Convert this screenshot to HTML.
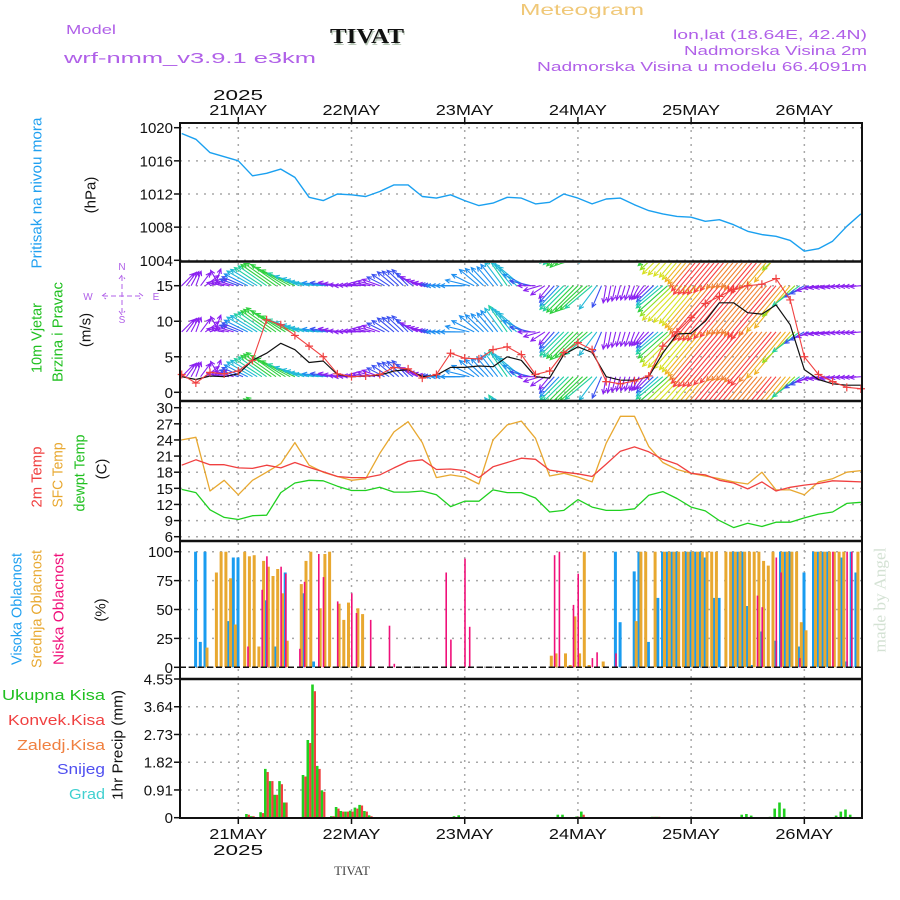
<!DOCTYPE html>
<html><head><meta charset="utf-8"><style>
html,body{margin:0;padding:0;background:#fff;}
svg{display:block;font-family:"Liberation Sans",sans-serif;}
</style></head><body>
<svg id="chart" width="900" height="900" viewBox="0 0 900 900" xmlns="http://www.w3.org/2000/svg">
<defs>
<clipPath id="clipWind"><rect x="181" y="263" width="680" height="137"/></clipPath>
</defs>
<rect x="0" y="0" width="900" height="900" fill="#fff"/>
<!-- header -->
<text x="66" y="34" font-size="13" fill="#b060e8" textLength="50" lengthAdjust="spacingAndGlyphs">Model</text>
<text x="64" y="63" font-size="15" fill="#b060e8" textLength="252" lengthAdjust="spacingAndGlyphs">wrf-nmm_v3.9.1 e3km</text>
<text x="331" y="45" font-size="21" font-weight="bold" font-family="Liberation Serif, serif" fill="#b8c8b8" textLength="74" lengthAdjust="spacingAndGlyphs">TIVAT</text>
<text x="330" y="43" font-size="21" font-weight="bold" font-family="Liberation Serif, serif" fill="#111" textLength="74" lengthAdjust="spacingAndGlyphs">TIVAT</text>
<text x="520" y="15" font-size="16" fill="#f0c878" textLength="124" lengthAdjust="spacingAndGlyphs">Meteogram</text>
<text x="867" y="39" font-size="13" fill="#b060e8" text-anchor="end" textLength="194" lengthAdjust="spacingAndGlyphs">lon,lat (18.64E, 42.4N)</text>
<text x="867" y="55" font-size="13" fill="#b060e8" text-anchor="end" textLength="183" lengthAdjust="spacingAndGlyphs">Nadmorska Visina 2m</text>
<text x="867" y="71" font-size="13" fill="#b060e8" text-anchor="end" textLength="330" lengthAdjust="spacingAndGlyphs">Nadmorska Visina u modelu 66.4091m</text>
<text x="238" y="100" font-size="15" fill="#111" text-anchor="middle" textLength="50" lengthAdjust="spacingAndGlyphs">2025</text>
<text x="238" y="855" font-size="15" fill="#111" text-anchor="middle" textLength="50" lengthAdjust="spacingAndGlyphs">2025</text>
<text x="352" y="875" font-size="13" fill="#444" text-anchor="middle" font-family="Liberation Serif, serif">TIVAT</text>
<text transform="translate(880,600) rotate(-90)" font-size="17" fill="#d4e2d4" text-anchor="middle" dominant-baseline="central" font-family="Liberation Serif, serif" textLength="105" lengthAdjust="spacingAndGlyphs">made by Angel</text>
<!-- left labels -->
<text transform="translate(37,193) rotate(-90)" font-size="15" fill="#20a0f0" text-anchor="middle" dominant-baseline="central" textLength="151" lengthAdjust="spacingAndGlyphs">Pritisak na nivou mora</text>
<text transform="translate(91,195) rotate(-90)" font-size="15" fill="#111" text-anchor="middle" dominant-baseline="central">(hPa)</text>
<text transform="translate(37,338) rotate(-90)" font-size="15" fill="#20c020" text-anchor="middle" dominant-baseline="central" textLength="70" lengthAdjust="spacingAndGlyphs">10m Vjetar</text>
<text transform="translate(58,332) rotate(-90)" font-size="15" fill="#20c020" text-anchor="middle" dominant-baseline="central" textLength="100" lengthAdjust="spacingAndGlyphs">Brzina i Pravac</text>
<text transform="translate(86,330) rotate(-90)" font-size="15" fill="#111" text-anchor="middle" dominant-baseline="central">(m/s)</text>
<g fill="#b060e8" stroke="#b060e8" font-size="10">
<text x="122" y="270" text-anchor="middle" stroke="none">N</text>
<text x="122" y="323" text-anchor="middle" stroke="none">S</text>
<text x="88" y="300" text-anchor="middle" stroke="none">W</text>
<text x="156" y="300" text-anchor="middle" stroke="none">E</text>
<path d="M103 296 H142 M122 276 V314 M106 293 L102 296 L106 299 M139 293 L143 296 L139 299 M119 279 L122 275 L125 279 M119 311 L122 315 L125 311" fill="none" stroke-width="1" stroke-dasharray="5,3"/>
</g>
<text transform="translate(37,477) rotate(-90)" font-size="15" fill="#f04040" text-anchor="middle" dominant-baseline="central" textLength="61" lengthAdjust="spacingAndGlyphs">2m Temp</text>
<text transform="translate(58,475) rotate(-90)" font-size="15" fill="#e8a830" text-anchor="middle" dominant-baseline="central" textLength="65" lengthAdjust="spacingAndGlyphs">SFC Temp</text>
<text transform="translate(80,473) rotate(-90)" font-size="15" fill="#20c020" text-anchor="middle" dominant-baseline="central" textLength="77" lengthAdjust="spacingAndGlyphs">dewpt Temp</text>
<text transform="translate(102,469) rotate(-90)" font-size="15" fill="#111" text-anchor="middle" dominant-baseline="central">(C)</text>
<text transform="translate(17,609) rotate(-90)" font-size="15" fill="#20a0f0" text-anchor="middle" dominant-baseline="central" textLength="112" lengthAdjust="spacingAndGlyphs">Visoka Oblacnost</text>
<text transform="translate(37,609) rotate(-90)" font-size="15" fill="#e8a830" text-anchor="middle" dominant-baseline="central" textLength="118" lengthAdjust="spacingAndGlyphs">Srednja Oblacnost</text>
<text transform="translate(59,609) rotate(-90)" font-size="15" fill="#f0107a" text-anchor="middle" dominant-baseline="central" textLength="112" lengthAdjust="spacingAndGlyphs">Niska Oblacnost</text>
<text transform="translate(101,610) rotate(-90)" font-size="15" fill="#111" text-anchor="middle" dominant-baseline="central">(%)</text>
<text x="105" y="700" font-size="15" fill="#20c020" text-anchor="end" textLength="103" lengthAdjust="spacingAndGlyphs">Ukupna  Kisa</text>
<text x="105" y="725" font-size="15" fill="#f04040" text-anchor="end" textLength="97" lengthAdjust="spacingAndGlyphs">Konvek.Kisa</text>
<text x="105" y="750" font-size="15" fill="#f08040" text-anchor="end" textLength="88" lengthAdjust="spacingAndGlyphs">Zaledj.Kisa</text>
<text x="105" y="774" font-size="15" fill="#5050f0" text-anchor="end" textLength="48" lengthAdjust="spacingAndGlyphs">Snijeg</text>
<text x="105" y="799" font-size="15" fill="#40d0d0" text-anchor="end" textLength="36" lengthAdjust="spacingAndGlyphs">Grad</text>
<text transform="translate(118,745) rotate(-90)" font-size="15" fill="#111" text-anchor="middle" dominant-baseline="central" textLength="110" lengthAdjust="spacingAndGlyphs">1hr Precip (mm)</text>
<g id="grid"></g>
<g id="marks"></g>
<g id="frame"></g>
</svg>
<script>
// ---------- data ----------
const dayLabels = ["21MAY","22MAY","23MAY","24MAY","25MAY","26MAY"];
const dayHours = [12,36,60,84,108,132];
const hours3 = [0,3,6,9,12,15,18,21,24,27,30,33,36,39,42,45,48,51,54,57,60,63,66,69,72,75,78,81,84,87,90,93,96,99,102,105,108,111,114,117,120,123,126,129,132,135,138,141,144];
const pressure = [1019.3,1018.6,1017.0,1016.5,1016.0,1014.2,1014.5,1015.0,1014.0,1011.6,1011.2,1012.0,1011.9,1011.7,1012.3,1013.1,1013.1,1011.7,1011.5,1011.9,1011.2,1010.6,1010.9,1011.6,1011.5,1010.8,1011.0,1012.0,1011.5,1010.8,1011.4,1011.5,1010.7,1010.0,1009.6,1009.3,1009.2,1008.7,1008.9,1008.3,1007.5,1007.1,1006.9,1006.4,1005.1,1005.4,1006.3,1008.1,1009.6];
const pressureTicks = [1004,1008,1012,1016,1020];
const windSpd = [2.2,1.8,2.3,2.2,2.6,4.5,5.5,6.9,6.0,4.2,4.4,2.5,2.2,2.3,2.4,3.0,3.2,2.2,2.4,3.5,3.5,3.7,3.6,5.0,4.5,2.2,2.0,5.3,6.4,5.6,2.2,1.7,1.7,2.2,5.5,8.2,8.3,10.0,12.6,12.6,11.2,11.0,12.3,9.5,3.2,1.8,1.2,1.0,1.0];
const windGust = [2.5,1.3,2.8,2.6,3.0,4.5,10.2,9.5,8.0,6.5,5.0,2.6,2.2,2.3,2.5,3.5,3.3,2.0,2.5,5.5,4.8,4.7,6.0,6.4,5.3,2.5,3.0,5.6,7.0,6.0,1.5,1.2,1.6,2.3,6.5,8.5,10.5,12.5,13.5,14.5,15.0,15.2,16.0,13.0,5.0,2.5,1.5,0.7,0.5];
const windDir = [225,200,250,100,110,120,125,125,115,105,95,100,90,95,110,130,135,110,95,90,90,130,140,145,130,90,40,45,45,50,10,15,20,45,50,45,40,40,40,40,40,40,40,40,60,80,80,85,85];
const windTicks = [0,5,10,15];
const windRows = [21.5,15,8.5,2.2,-4.1];
const temp2m = [19.3,20.3,19.4,19.4,18.8,18.7,19.3,18.8,19.8,18.9,18.1,17.2,17.0,17.0,17.5,18.8,20.0,20.3,18.5,18.6,18.3,17.0,19.0,19.8,20.6,20.4,18.4,18.0,17.7,17.2,19.5,21.9,22.7,21.8,20.4,19.5,17.8,17.5,16.5,16.0,14.9,16.2,14.5,15.2,15.6,15.9,16.4,16.3,16.2];
const tempSfc = [24,24.5,14.5,16.5,13.8,16.5,18.0,19.6,23.5,19.3,18.0,17.2,16.5,16.8,21.5,25.5,27.4,23.5,17.0,17.5,17.1,15.8,24,26.8,27.5,24.3,17.3,17.8,17.1,16.2,23.4,28.4,28.4,22.8,19.8,18.5,17.8,17.3,16.8,16.2,15.8,18,14.7,14.7,13.8,16.2,16.8,18,18.3];
const dewpt = [14.8,14.2,11.0,9.6,9.2,9.9,10.0,14.2,16.0,16.5,16.4,15.4,14.6,14.6,15.2,14.3,14.3,14.5,13.8,11.6,12.6,12.6,14.7,14.2,14.2,13.2,10.6,10.9,12.9,11.5,10.9,10.9,11.2,13.7,14.4,13.1,11.5,10.8,9.0,7.7,8.5,7.9,8.7,8.7,9.5,10.2,10.6,12.2,12.4];
const tempTicks = [6,9,12,15,18,21,24,27,30];
const cloudHighHours = [3,4,5,10,11,12,18,20,22,26,28,92,93,96,97,99,101,102,103,104,105,107,108,109,110,111,113,114,117,118,119,120,121,123,126,127,128,129,131,132,134,135,136,137,140,141,142,143];
const cloudHigh = [100,22,100,40,95,95,58,18,82,64,5,100,39,83,100,22,60,100,100,100,100,100,100,100,100,95,60,60,100,100,100,53,2,31,23,100,100,100,18,82,100,100,100,100,95,5,100,82];
const cloudMidHours = [5,7,8,9,10,11,13,14,15,16,17,18,19,20,21,22,25,26,27,29,30,31,33,34,35,37,38,78,79,81,82,83,84,85,86,89,96,97,98,100,102,103,104,105,106,107,108,109,110,111,112,113,115,116,117,118,119,120,121,122,123,124,125,127,128,129,130,131,132,134,135,136,137,138,139,140,143];
const cloudMid = [17,82,100,100,77,37,100,96,97,18,92,87,79,85,64,23,72,92,100,51,98,100,55,41,56,51,46,10,12,12,2,44,12,100,2,5,40,100,100,100,100,100,100,100,100,100,100,100,100,100,100,100,100,100,100,100,100,100,100,100,92,88,100,100,100,100,100,39,32,100,100,100,100,100,100,100,100];
const cloudLowHours = [14,17,18,21,22,25,26,29,30,33,36,37,40,44,45,56,57,60,61,79,80,83,84,87,88,92,122,123,126,127,131,138,141,142];
const cloudLow = [18,67,96,87,81,16,74,98,78,57,64,47,41,36,3,82,24,94,35,97,100,54,81,8,13,12,62,52,95,82,8,100,100,100];
const cloudTicks = [0,25,50,75,100];
const precipHours = [14,15,17,18,19,20,21,22,23,26,27,28,29,30,32,33,34,35,36,37,38,39,40,58,59,80,81,84,85,100,101,119,120,121,125,126,127,128,139,140,141,142];
const precipTotal = [0.12,0.05,0.18,1.6,1.2,0.75,1.2,0.5,0.02,1.4,2.55,4.37,1.7,0.9,0.05,0.35,0.22,0.2,0.23,0.33,0.42,0.22,0.08,0.05,0.08,0.1,0.1,0.04,0.2,0.03,0.03,0.1,0.12,0.07,0.03,0.3,0.5,0.3,0.07,0.2,0.27,0.1];
const precipConv = [0.1,0.05,0.15,1.5,1.2,0.75,1.1,0.5,0.02,1.35,2.45,4.15,1.6,0.85,0.05,0.3,0.2,0.2,0.2,0.3,0.4,0.2,0.05,0,0,0,0,0.03,0.1,0.03,0.03,0,0,0,0,0,0,0,0,0,0,0];
const precipTicks = ["0","0.91","1.82","2.73","3.64","4.55"];

// ---------- scales ----------
const X0 = 181.7, PXH = 4.717, LEFT = 180, RIGHT = 862;
function xs(h){ return X0 + h*PXH; }
function lin(v, v0, v1, y0, y1){ return y0 + (v - v0)*(y1 - y0)/(v1 - v0); }
const yP = v => lin(v,1004,1020,260.3,127.7);
const yW = v => lin(v,0,15,392.3,285.7);
const yT = v => lin(v,6,30,536.7,407.7);
const yC = v => lin(v,0,100,667.3,551.7);
const yR = v => lin(v,0,4.55,817.7,679);

const NS = "http://www.w3.org/2000/svg";
const grid = document.getElementById('grid');
const marks = document.getElementById('marks');
const frame = document.getElementById('frame');
function el(tag, attrs, parent){
  const e = document.createElementNS(NS, tag);
  for (const k in attrs) e.setAttribute(k, attrs[k]);
  parent.appendChild(e);
  return e;
}

// ---------- grid + ticks ----------
function hgrid(ticks, fy, labelFn, name){
  ticks.forEach(t => {
    const v = parseFloat(t);
    const y = fy(v);
    const g = el('line', {x1:LEFT, x2:RIGHT, y1:y, y2:y, stroke:'#a8a8a8', 'stroke-width':1.5, 'stroke-dasharray':'2,6'}, grid);
    
    
    const tk = el('line', {x1:LEFT-6, x2:LEFT, y1:y, y2:y, stroke:'#111', 'stroke-width':1.5}, frame);
    
    
    const tx = el('text', {x:LEFT-7, y:y+5.5, 'font-size':15, 'text-anchor':'end', fill:'#111'}, frame);
    tx.textContent = labelFn(t);
    
    
  });
}
hgrid(pressureTicks, yP, t => String(t), 'pressure-axis');
hgrid(windTicks, yW, t => String(t), 'wind-axis');
hgrid(tempTicks, yT, t => String(t), 'temp-axis');
hgrid(cloudTicks, yC, t => String(t), 'cloud-axis');
hgrid(precipTicks, yR, t => t, 'precip-axis');

dayHours.forEach((h, i) => {
  const x = xs(h);
  const v = el('line', {x1:x, x2:x, y1:123, y2:818, stroke:'#a8a8a8', 'stroke-width':1.5, 'stroke-dasharray':'2,5'}, grid);
  
  
  const t1 = el('line', {x1:x, x2:x, y1:117, y2:123, stroke:'#111', 'stroke-width':1.5}, frame);
  
  
  const t2 = el('line', {x1:x, x2:x, y1:818, y2:824, stroke:'#111', 'stroke-width':1.5}, frame);
  
  
  const l1 = el('text', {x:x, y:115, 'font-size':15, 'text-anchor':'middle', fill:'#111', textLength:58, lengthAdjust:'spacingAndGlyphs'}, frame);
  l1.textContent = dayLabels[i];
  
  
  const l2 = el('text', {x:x, y:839, 'font-size':15, 'text-anchor':'middle', fill:'#111', textLength:58, lengthAdjust:'spacingAndGlyphs'}, frame);
  l2.textContent = dayLabels[i];
  
  
});

// ---------- lines ----------
function polyline(vals, fy, color, name, width){
  const pts = vals.map((v,i) => xs(hours3[i]).toFixed(1) + ',' + fy(v).toFixed(1)).join(' ');
  const p = el('polyline', {points:pts, fill:'none', stroke:color, 'stroke-width':width||1.3, 'stroke-linejoin':'round'}, marks);
  
  
  return p;
}
polyline(pressure, yP, '#1aa0f0', 'pressure-line', 1.4);

// ---------- wind arrows ----------
function windColor(s){
  if (s < 2.6) return '#8a20f0';
  if (s < 3.4) return '#3a50f0';
  if (s < 4.2) return '#1f90f0';
  if (s < 5.0) return '#20b8d8';
  if (s < 5.8) return '#20d0a0';
  if (s < 7.0) return '#30d040';
  if (s < 8.2) return '#90e020';
  if (s < 9.2) return '#d8e020';
  if (s < 10.5) return '#f0b020';
  if (s < 11.5) return '#f08030';
  if (s < 13.5) return '#f84040';
  return '#f02070';
}
const wg = el('g', {'clip-path':'url(#clipWind)'}, marks);


for (let i = 0; i < hours3.length; i++){
  const nsub = i < hours3.length - 1 ? 3 : 1;
  for (let s = 0; s < nsub; s++){
    const f = s/3;
    const j = Math.min(i+1, hours3.length-1);
    const spd = windSpd[i] + (windSpd[j]-windSpd[i])*f;
    const dir = windDir[i] + (windDir[j]-windDir[i])*f;
    const h = hours3[i] + 3*f;
    const L = 5.2*spd + 6;
    const r = dir*Math.PI/180;
    const dx = -Math.sin(r)*L, dy = Math.cos(r)*L;
    const col = windColor(spd);
    windRows.forEach(row => {
      const x1 = xs(h), y1 = yW(row);
      const x2 = x1 + dx, y2 = y1 + dy;
      const a = Math.atan2(dy, dx);
      const hl = 5;
      const d = 'M'+x1.toFixed(1)+' '+y1.toFixed(1)+' L'+x2.toFixed(1)+' '+y2.toFixed(1)+
        ' M'+(x2 - hl*Math.cos(a-0.45)).toFixed(1)+' '+(y2 - hl*Math.sin(a-0.45)).toFixed(1)+' L'+x2.toFixed(1)+' '+y2.toFixed(1)+
        ' L'+(x2 - hl*Math.cos(a+0.45)).toFixed(1)+' '+(y2 - hl*Math.sin(a+0.45)).toFixed(1);
      const p = el('path', {d:d, fill:'none', stroke:col, 'stroke-width':1.1}, wg);
      
      
    });
  }
}
polyline(windSpd, yW, '#111', 'wind-speed-line', 1.2);
polyline(windGust, yW, '#f04040', 'wind-gust-line', 1.1);
windGust.forEach((v,i) => {
  const x = xs(hours3[i]), y = yW(v);
  const c = el('path', {d:'M'+(x-4)+' '+y+' H'+(x+4)+' M'+x+' '+(y-4)+' V'+(y+4), stroke:'#f04040', 'stroke-width':1.2, fill:'none'}, marks);
  
  
});

// ---------- temperature ----------
polyline(tempSfc, yT, '#e8a830', 'sfc-temp-line', 1.3);
polyline(temp2m, yT, '#f04040', 'temp2m-line', 1.3);
polyline(dewpt, yT, '#20d020', 'dewpt-line', 1.3);

// ---------- clouds ----------
function bars(hrs, vals, fy, off, w, color, name){
  hrs.forEach((h,i) => {
    const y = fy(vals[i]), y0 = fy(0);
    const r = el('rect', {x:(xs(h)+off).toFixed(1), y:y.toFixed(1), width:w, height:Math.max(0,y0-y).toFixed(1), fill:color}, marks);
    
    
  });
}
bars(cloudHighHours, cloudHigh, yC, -1.8, 3, '#1a9cf0', 'high-cloud-bar');
bars(cloudMidHours, cloudMid, yC, 0.2, 3, '#e8a830', 'mid-cloud-bar');
bars(cloudLowHours, cloudLow, yC, -0.5, 1.6, '#f0107a', 'low-cloud-bar');
const cz = el('line', {x1:LEFT, x2:RIGHT, y1:yC(0), y2:yC(0), stroke:'#111', 'stroke-width':1.5, 'stroke-dasharray':'6,3'}, marks);



// ---------- precipitation ----------
bars(precipHours, precipTotal, yR, -2.6, 2.6, '#20d020', 'precip-total-bar');
bars(precipHours, precipConv, yR, 0, 2.2, '#f04040', 'precip-convective-bar');
const pz = el('line', {x1:LEFT, x2:RIGHT, y1:yR(0), y2:yR(0), stroke:'#111', 'stroke-width':1.5, 'stroke-dasharray':'6,3'}, marks);



// ---------- frame ----------
const fr = el('rect', {x:LEFT, y:123, width:RIGHT-LEFT, height:695, fill:'none', stroke:'#111', 'stroke-width':2}, frame);


[261.5, 401, 541, 679].forEach(y => {
  const l = el('line', {x1:LEFT, x2:RIGHT, y1:y, y2:y, stroke:'#111', 'stroke-width':2.5}, frame);
  
  
});
</script>
</body></html>
